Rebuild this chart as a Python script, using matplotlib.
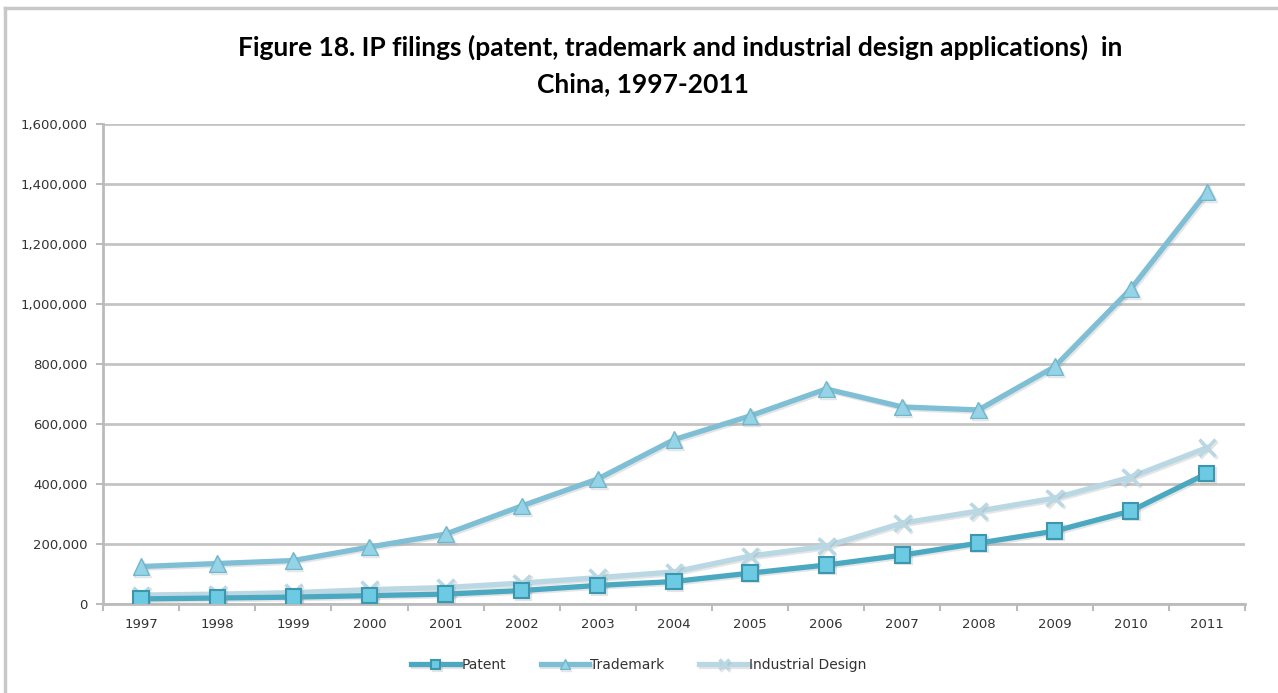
import numpy as np
import matplotlib
matplotlib.use('Agg')
import matplotlib.pyplot as plt
import matplotlib.patheffects as pe
from matplotlib.ticker import FuncFormatter, FixedLocator
from matplotlib.lines import Line2D

years = ['1997', '1998', '1999', '2000', '2001', '2002', '2003', '2004',
         '2005', '2006', '2007', '2008', '2009', '2010', '2011']
patent = [17000, 20000, 23000, 28000, 33000, 45000, 62000, 75000,
          103000, 130000, 163000, 203000, 243000, 310000, 435000]
trademark = [125000, 135000, 145000, 190000, 233000, 327000, 417000, 548000,
             627000, 717000, 657000, 647000, 791000, 1050000, 1373000]
design = [30000, 33000, 38000, 48000, 55000, 70000, 88000, 107000,
          160000, 193000, 270000, 310000, 353000, 423000, 521000]

fig = plt.figure(figsize=(12.78, 6.93), dpi=100)
ax = fig.add_axes([0.0806, 0.1284, 0.8935, 0.6926])

x = np.arange(len(years))
shadow = [pe.SimpleLineShadow(offset=(1.2, -1.2), shadow_color='#999999', alpha=0.25), pe.Normal()]

ax.plot(x, patent, color='#4aa9c1', lw=3.8, marker='s', ms=11,
        mfc='#6ccbe3', mec='#3b97b0', mew=1.5, label='Patent', zorder=4,
        path_effects=shadow)
ax.plot(x, trademark, color='#7ebfd5', lw=3.8, marker='^', ms=12,
        mfc='#95d3e6', mec='#72b6cc', mew=1.0, label='Trademark', zorder=3,
        path_effects=shadow)
ax.plot(x, design, color='#b9d8e4', lw=3.8, marker='x', ms=12,
        mec='#b9d8e4', mew=2.5, label='Industrial Design', zorder=2,
        path_effects=shadow)

ax.set_xlim(-0.5, len(years) - 0.5)
ax.set_ylim(0, 1600000)
ax.set_yticks(np.arange(0, 1600001, 200000))
ax.yaxis.set_major_formatter(FuncFormatter(lambda v, p: f'{int(v):,}'))
ax.set_xticks(x)
ax.set_xticklabels(years)
ax.xaxis.set_minor_locator(FixedLocator(np.arange(-0.5, len(years), 1.0)))
ax.tick_params(axis='x', which='major', length=0, pad=10, labelsize=9.5, colors='#333333')
ax.tick_params(axis='x', which='minor', length=5, width=1.5, color='#bbbbbb')
ax.tick_params(axis='y', length=5, width=1.5, color='#bbbbbb', labelsize=9.5,
               labelcolor='#333333', pad=6)

ax.grid(axis='y', color='#c4c4c4', lw=2)
ax.set_axisbelow(True)
for s in ['top', 'right']:
    ax.spines[s].set_visible(False)
for s in ['left', 'bottom']:
    ax.spines[s].set_color('#bbbbbb')
    ax.spines[s].set_linewidth(2)

fig.text(0.532, 0.932, 'Figure 18. IP filings (patent, trademark and industrial design applications)  in',
         ha='center', va='center', fontsize=19, fontweight='bold', family='Lato')
fig.text(0.503, 0.879, 'China, 1997-2011',
         ha='center', va='center', fontsize=19, fontweight='bold', family='Lato')

leg = fig.legend(loc='center', bbox_to_anchor=(0.5, 0.04), ncol=3, frameon=False,
                 fontsize=10, handlelength=3.5, handletextpad=0.1, columnspacing=2.5,
                 markerscale=0.6)
for t in leg.get_texts():
    t.set_color('#333333')

# outer chart frame (top and left edges visible)
fig.add_artist(Line2D([0.004, 1.0], [0.988, 0.988], color='#c8c8c8', lw=2.5, transform=fig.transFigure))
fig.add_artist(Line2D([0.004, 0.004], [0.0, 0.988], color='#c8c8c8', lw=2.5, transform=fig.transFigure))

fig.savefig('out.png', dpi=100)
